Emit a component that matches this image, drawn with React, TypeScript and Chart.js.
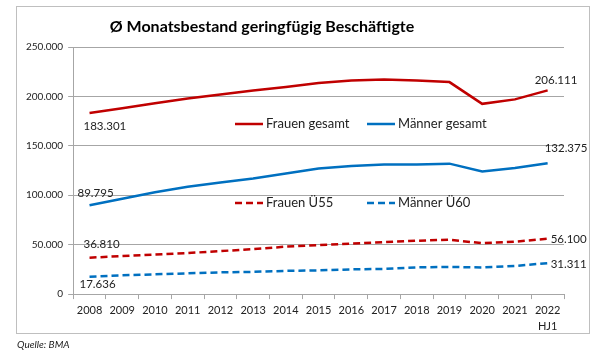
import React, { useEffect, useRef } from 'react';
import { Chart, registerables } from 'chart.js';

Chart.register(...registerables);

const years = ['2008', '2009', '2010', '2011', '2012', '2013', '2014', '2015', '2016', '2017', '2018', '2019', '2020', '2021', '2022'];
const lastYearSuffix = 'HJ1';

const frauenGesamt = [183301, 188000, 193000, 198000, 202000, 206000, 209500, 213500, 216000, 217000, 216000, 214500, 192500, 197000, 206111];
const maennerGesamt = [89795, 96500, 103000, 108500, 113000, 117000, 122000, 127000, 129500, 131000, 131000, 132000, 124000, 127500, 132375];
const frauenUe55 = [36810, 38500, 40000, 41500, 43500, 45500, 48000, 49500, 51000, 52500, 54000, 55000, 51500, 53000, 56100];
const maennerUe60 = [17636, 19000, 20000, 21000, 22000, 22500, 23500, 24000, 25000, 25500, 27000, 27500, 27000, 28500, 31311];

const seriesNames = ['Frauen gesamt', 'Männer gesamt', 'Frauen Ü55', 'Männer Ü60'];
const yTicks = [0, 50000, 100000, 150000, 200000, 250000];
const titleText = 'Ø Monatsbestand geringfügig Beschäftigte';

const RED = '#C00000';
const BLUE = '#0070C0';
const FONT = 'Lato, "Open Sans", sans-serif';

// label placement styles: [firstDx, firstDy, lastDx, lastDy]
const labelOffsets = [
  [-6, 13, -13, -10],
  [-12, -12, -3, -15],
  [-6, -13, 3, 1],
  [-10, 8, 3, 1],
];
// legend positions (x of line start, y)
const legendPos = [
  [235, 124],
  [367, 124],
  [235, 203],
  [367, 203],
];

const fmt = (v: number) => Math.round(v).toString().replace(/\B(?=(\d{3})+(?!\d))/g, '.');

const overlayPlugin = {
  id: 'overlay',
  afterDatasetsDraw(chart: any) {
    const ctx = chart.ctx as CanvasRenderingContext2D;
    ctx.save();
    // title
    ctx.font = `bold 16px ${FONT}`;
    ctx.fillStyle = '#000';
    ctx.textAlign = 'center';
    ctx.textBaseline = 'middle';
    ctx.fillText(titleText, 262, 27);

    // legend
    ctx.font = `13px ${FONT}`;
    ctx.textAlign = 'left';
    chart.data.datasets.forEach((ds: any, i: number) => {
      const [lx, ly] = legendPos[i];
      ctx.save();
      ctx.strokeStyle = ds.borderColor;
      ctx.lineWidth = 2.5;
      ctx.setLineDash(ds.borderDash || []);
      ctx.beginPath();
      ctx.moveTo(lx, ly);
      ctx.lineTo(lx + 28, ly);
      ctx.stroke();
      ctx.restore();
      ctx.fillStyle = '#222';
      ctx.fillText(ds.label, lx + 31, ly);
    });

    // data labels
    ctx.font = `11.5px ${FONT}`;
    ctx.fillStyle = '#222';
    chart.data.datasets.forEach((ds: any, i: number) => {
      const meta = chart.getDatasetMeta(i);
      const pts = meta.data;
      const first = pts[0];
      const last = pts[pts.length - 1];
      const off = labelOffsets[i];
      ctx.textAlign = 'left';
      ctx.fillText(fmt(ds.data[0]), first.x + off[0], first.y + off[1]);
      ctx.fillText(fmt(ds.data[ds.data.length - 1]), last.x + off[2], last.y + off[3]);
    });
    ctx.restore();
  },
};

export default function App() {
  const ref = useRef<HTMLCanvasElement>(null);
  useEffect(() => {
    if (!ref.current) return;
    const labels = years.map((y, i) => (i === years.length - 1 ? [y, lastYearSuffix] : y));
    const mk = (label: string, data: number[], color: string, dashed: boolean) => ({
      label,
      data,
      borderColor: color,
      backgroundColor: color,
      borderWidth: 2.5,
      borderDash: dashed ? [7, 4] : [],
      pointRadius: 0,
      tension: 0,
      fill: false,
    });
    const chart = new Chart(ref.current, {
      type: 'line',
      data: {
        labels,
        datasets: [
          mk(seriesNames[0], frauenGesamt, RED, false),
          mk(seriesNames[1], maennerGesamt, BLUE, false),
          mk(seriesNames[2], frauenUe55, RED, true),
          mk(seriesNames[3], maennerUe60, BLUE, true),
        ],
      },
      options: {
        animation: false,
        responsive: false,
        maintainAspectRatio: false,
        layout: { padding: { left: 21, right: 40, top: 47, bottom: 20 } },
        plugins: {
          legend: { display: false },
          title: { display: false },
          tooltip: { enabled: false },
        },
        scales: {
          x: {
            offset: true,
            grid: {
              offset: true,
              drawOnChartArea: false,
              drawTicks: true,
              tickLength: 5,
              color: '#a6a6a6',
            },
            border: { color: '#a6a6a6', width: 1 },
            ticks: {
              color: '#222',
              font: { family: FONT, size: 11, lineHeight: 1.45 },
              maxRotation: 0,
              autoSkip: false,
              padding: 3,
            },
          },
          y: {
            min: 0,
            max: 250000,
            afterBuildTicks: (axis: any) => {
              axis.ticks = yTicks.map((v) => ({ value: v }));
            },
            grid: { color: '#a6a6a6', tickLength: 5, drawTicks: true },
            border: { color: '#a6a6a6', width: 1 },
            ticks: {
              color: '#222',
              font: { family: FONT, size: 10 },
              padding: 5,
              callback: (v: any) => fmt(Number(v)),
            },
          },
        },
      },
      plugins: [overlayPlugin],
    });
    return () => chart.destroy();
  }, []);

  return (
    <div style={{ position: 'absolute', left: 0, top: 0, width: 604, height: 357, background: '#fff' }}>
      <div
        style={{
          position: 'absolute',
          left: 16,
          top: 6,
          width: 572,
          height: 326,
          border: '1px solid #bfbfbf',
        }}
      />
      <canvas ref={ref} width={604} height={357} style={{ position: 'absolute', left: 0, top: 0 }} />
      <div
        style={{
          position: 'absolute',
          left: 17,
          top: 338,
          fontFamily: FONT,
          fontStyle: 'italic',
          fontSize: 10,
          color: '#222',
        }}
      >
        Quelle: BMA
      </div>
    </div>
  );
}
